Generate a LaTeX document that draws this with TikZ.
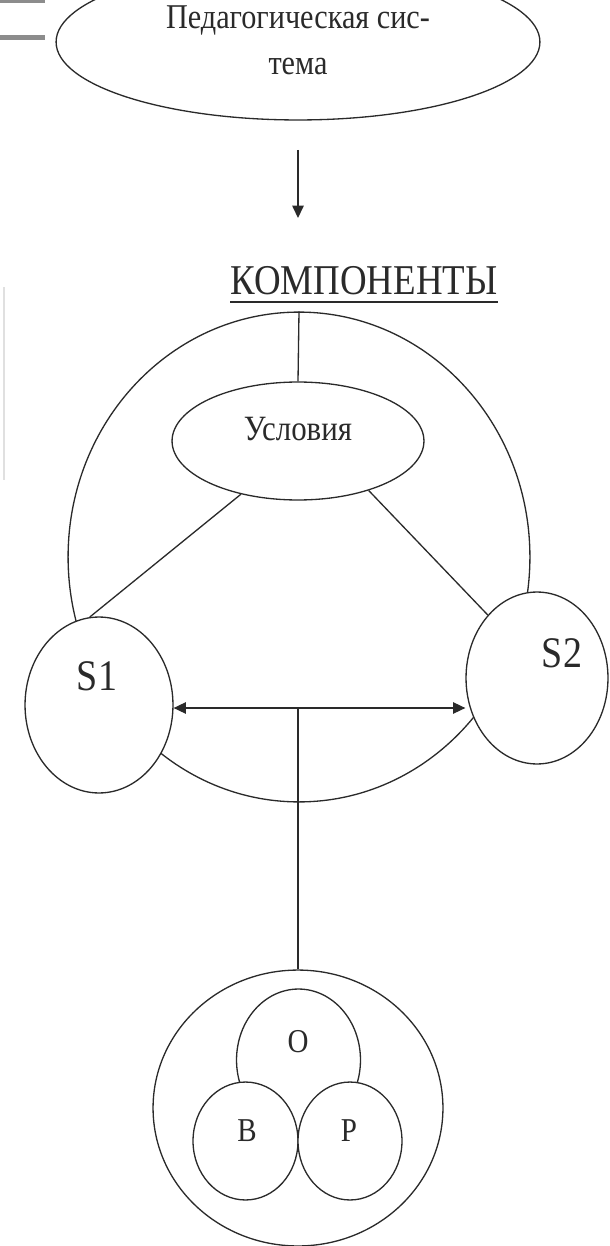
\documentclass[tikz,border=0pt]{standalone}
\usepackage{fontspec}
\setmainfont{Liberation Serif}
\usetikzlibrary{shapes.geometric,arrows.meta}
\definecolor{ink}{HTML}{2A2A2A}
\newcommand{\vst}[1]{\scalebox{1}[1.15]{#1}}
\begin{document}
\begin{tikzpicture}[x=0.02cm,y=-0.02cm,
  ell/.style 2 args={draw=ink, line width=0.75pt, ellipse, inner sep=0pt,
    minimum width=#1*0.04cm, minimum height=#2*0.04cm},
  wfill/.style={fill=white},
  txt/.style={inner sep=0pt, text=ink},
  conn/.style={draw=ink, line width=0.75pt},
  tri/.tip={Triangle[length=7pt,width=6.5pt]},
  scan/.style={draw=black!45}
]
\useasboundingbox (0,0) rectangle (609,1246);

% scan marks
\draw[scan, line width=2pt] (0,1) -- (45,1);
\draw[scan, line width=2.8pt] (0,37.5) -- (45,37.5);
\draw[draw=black!12, line width=0.8pt] (4,287) -- (4,480);

% top system ellipse
\node[ell={242}{78}] (sys) at (298,42) {};
\node[txt, font=\fontsize{17.2}{26}\selectfont, align=center] (systext) at (298,40)
  {\vst{Педагогическая сис-}\\\vst{тема}};

\coordinate (a1) at (298,150);
\coordinate (a2) at (298,218);
\draw[conn, -tri] (a1) -- (a2);

\node[txt, font=\fontsize{21}{24}\selectfont, anchor=base] (komp) at (364,295) {\vst{КОМПОНЕНТЫ}};
\draw[conn, line width=1.1pt] ([yshift=-4pt]komp.base west) -- ([yshift=-4pt]komp.base east);

% components
\node[ell={231}{245}] (big) at (299,557) {};
\node[ell={126}{59}] (usl) at (298,441) {};
\node[txt, font=\fontsize{17.6}{21}\selectfont, anchor=base] (usltext) at (298,440) {\vst{Условия}};
\draw[conn] (big.north) -- (usl.north);

\node[ell={74}{88}, wfill] (s1) at (99,705) {};
\node[ell={71}{86}, wfill] (s2) at (537,678) {};
\node[txt, font=\fontsize{21.6}{26}\selectfont, anchor=base] (s1text) at (97,690) {\vst{S1}};
\node[txt, font=\fontsize{21.6}{26}\selectfont, anchor=base] (s2text) at (562,667) {\vst{S2}};

\draw[conn] (usl.223) -- (s1.96);
\draw[conn] (usl.-35) -- (s2.128);

\coordinate (mid) at (298,708);
\draw[conn, tri-tri] (mid -| s1.east) -- (mid -| s2.west);

% bottom group
\node[ell={145}{138}] (bot) at (298,1108) {};
\draw[conn] (mid) -- (bot.north);
\node[ell={62}{71}] (o) at (298.5,1060) {};
\node[ell={52.5}{59}, wfill] (b) at (245.5,1141) {};
\node[ell={52}{59}, wfill] (p) at (350,1141) {};
\node[txt, font=\fontsize{16.5}{20}\selectfont, anchor=base] (otext) at (298,1052) {\vst{О}};
\node[txt, font=\fontsize{16.5}{20}\selectfont, anchor=base] (btext) at (247,1141) {\vst{В}};
\node[txt, font=\fontsize{16.5}{20}\selectfont, anchor=base] (ptext) at (349,1141) {\vst{Р}};
\end{tikzpicture}
\end{document}
